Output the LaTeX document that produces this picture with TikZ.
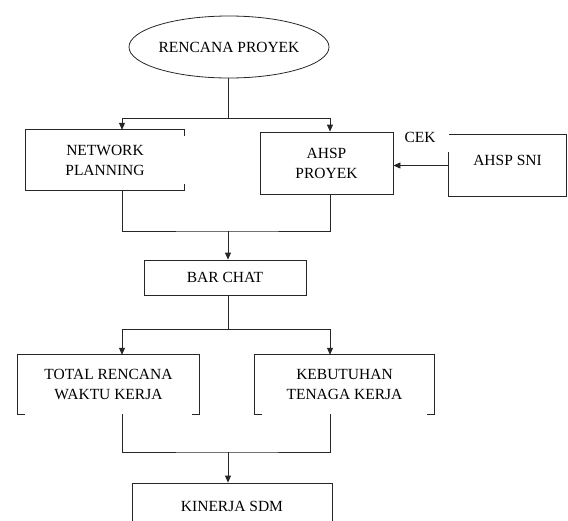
\documentclass[tikz,border=0pt]{standalone}
\usepackage{fontspec}
\setmainfont{Liberation Serif}
\usetikzlibrary{positioning,shapes.geometric,arrows.meta}

\tikzset{
  box/.style={inner sep=0pt,align=center,font=\fontsize{15.5}{20}\selectfont},
  frame/.style={draw=black!85,line width=0.8pt},
  link/.style={draw=black!85,line width=0.8pt},
  arr/.style={link,-{Triangle[length=7pt,width=6pt]}},
}

\begin{document}
\begin{tikzpicture}[x=1pt,y=-1pt]
	\useasboundingbox (0,0) rectangle (568,520);
	\clip (0,0) rectangle (568,520);
	% columns of the connectors
	\coordinate (colL) at (122,0);
	\coordinate (colR) at (330,0);

	\node[box,frame,ellipse,minimum width=200pt,minimum height=62pt] (rp) at (229,47) {RENCANA PROYEK};
	\node[box,minimum width=158pt,minimum height=60pt] (np) at (105,160) {NETWORK\\PLANNING};
	\node[box,frame,minimum width=133pt,minimum height=62pt] (ahsp) at (326.5,163) {AHSP\\PROYEK};
	\node[box,text depth=10pt,minimum width=117pt,minimum height=61pt] (sni) at (507.5,165.5) {AHSP SNI};
	\node[box] (cek) at (420,137) {CEK};
	\node[box,frame,minimum width=162pt,minimum height=35pt] (bc) at (225,277.5) {BAR CHAT};
	\node[box,minimum width=181pt,minimum height=59pt] (tr) at (108.5,384.5) {TOTAL RENCANA\\WAKTU KERJA};
	\node[box,minimum width=179pt,minimum height=59pt] (kt) at (344.5,384.5) {KEBUTUHAN\\TENAGA KERJA};
	\node[box,frame,minimum width=200pt,minimum height=47pt] (ks) at (232,506.5) {KINERJA SDM};

	% broken frames
	\draw[frame] (np.north east) ++(0,6) -- (np.north east) -- (np.north west) -- (np.south west) -- (np.south east) -- ++(0,-6);
	\draw[frame] (sni.north west) ++(0,17) -- (sni.south west) -- (sni.south east) -- (sni.north east) -- (sni.north west);
	\draw[frame] (tr.south west) ++(7,0) -- (tr.south west) -- (tr.north west) -- (tr.north east) -- (tr.south east) -- ++(-7,0);
	\draw[frame] (kt.south west) ++(7,0) -- (kt.south west) -- (kt.north west) -- (kt.north east) -- (kt.south east) -- ++(-7,0);

	% junctions
	\coordinate (j1) at (228,118);
	\coordinate (j2) at (228,231);
	\coordinate (j3) at (228,329);
	\coordinate (j4) at (228,452);

	\draw[link] (rp.south -| j1) -- (j1);
	\draw[arr] (j1) -| (np.north -| colL);
	\draw[arr] (j1) -| (ahsp.north -| colR);
	\draw[arr] (sni.west) -- (sni.west -| ahsp.east);
	\draw[link] (np.south -| colL) |- (j2) -| (ahsp.south -| colR);
	\draw[arr] (j2) -- (bc.north -| j2);
	\draw[link] (bc.south -| j3) -- (j3);
	\draw[arr] (j3) -| (tr.north -| colL);
	\draw[arr] (j3) -| (kt.north -| colR);
	\draw[link] (tr.south -| colL) |- (j4) -| (kt.south -| colR);
	\draw[arr] (j4) -- (ks.north -| j4);
\end{tikzpicture}
\end{document}
